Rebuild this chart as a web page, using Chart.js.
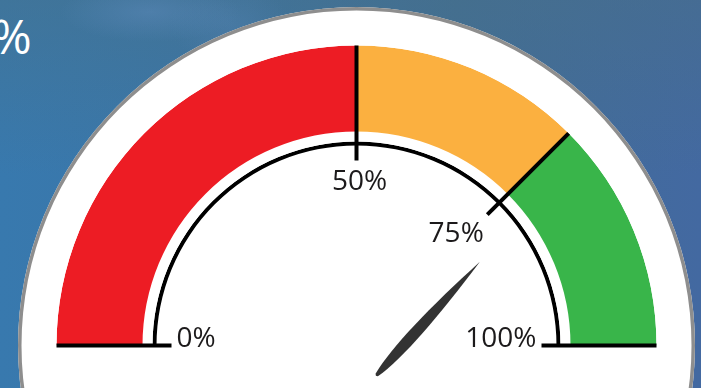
<!DOCTYPE html>
<html lang="en">
<head>
  <meta charset="UTF-8">
  <title>Gauge</title>
  <script src="https://cdn.jsdelivr.net/npm/chart.js"></script>
  <style>
    html, body {
      margin: 0;
      padding: 0;
      width: 701px;
      height: 388px;
      overflow: hidden;
    }
    body {
      position: relative;
      font-family: "Open Sans", Arial, sans-serif;
      background:
        radial-gradient(ellipse 90px 30px at 150px 12px, rgba(95, 140, 190, 0.45), rgba(95, 140, 190, 0)),
        radial-gradient(ellipse 60px 40px at 230px 25px, rgba(90, 135, 185, 0.3), rgba(90, 135, 185, 0)),
        linear-gradient(180deg, rgba(72, 112, 132, 0.45) 0%, rgba(72, 112, 132, 0) 45%),
        linear-gradient(90deg, #3879ae 0%, #3b75a7 35%, #416e97 65%, #4369a1 100%);
    }
    .corner {
      position: absolute;
      left: -8px;
      top: 12px;
      color: #fff;
      font-size: 48px;
      line-height: 1;
    }
    .gauge {
      position: absolute;
      left: 18px;
      top: 7px;
      width: 677px;
      height: 677px;
      border-radius: 50%;
      background: #fff;
    }
  </style>
</head>
<body>
  <div class="corner">%</div>
  <div class="gauge"><canvas id="gauge"></canvas></div>

  <script>
    // bands of the dial, in percent, left to right
    var bandValues = [50, 25, 25];
    var bandColors = ['#ed1c24', '#fbb040', '#39b54a'];
    var tickLabels = ['0%', '50%', '75%', '100%'];
    var needleValue = 73.5;

    var total = bandValues.reduce(function (a, b) { return a + b; }, 0);

    // ticks, labels and needle on top of the rings
    var dialOverlay = {
      id: 'dialOverlay',
      afterDatasetsDraw: function (chart) {
        var ctx = chart.ctx;
        var bands = chart.getDatasetMeta(2).data;
        var rim = chart.getDatasetMeta(4).data[0];
        var cx = bands[0].x, cy = bands[0].y;
        var outer = bands[0].outerRadius;
        var tickInner = rim.innerRadius - 15;

        var angles = bands.slice(0, bandValues.length).map(function (a) { return a.startAngle; });
        angles.push(bands[bandValues.length - 1].endAngle);

        ctx.save();
        ctx.strokeStyle = '#000';
        ctx.lineWidth = 4;
        angles.forEach(function (a) {
          ctx.beginPath();
          ctx.moveTo(cx + tickInner * Math.cos(a), cy + tickInner * Math.sin(a));
          ctx.lineTo(cx + outer * Math.cos(a), cy + outer * Math.sin(a));
          ctx.stroke();
        });

        ctx.fillStyle = '#1c1a1b';
        ctx.font = '28px "Open Sans"';
        var rl = tickInner - 5;
        angles.forEach(function (a, i) {
          var c = Math.cos(a), s = Math.sin(a);
          var px = cx + rl * c, py = cy + rl * s;
          ctx.textAlign = c < -0.5 ? 'left' : (c > 0.3 ? 'right' : 'center');
          var y = Math.abs(s) < 0.3 ? py + 1.5 : py + 24;
          ctx.fillText(tickLabels[i], px + (ctx.textAlign === 'center' ? 3 : 0), y);
        });

        // needle
        var start = bands[0].startAngle;
        var ang = start + Math.PI * needleValue / total;
        var tx = cx + 0.068 * outer, ty = cy + 0.098 * outer;
        var len = 0.51 * outer;
        ctx.translate(tx, ty);
        ctx.rotate(ang);
        ctx.beginPath();
        ctx.moveTo(0, -1.8);
        ctx.bezierCurveTo(0.2 * len, -8, 0.55 * len, -6.5, len, 0);
        ctx.bezierCurveTo(0.55 * len, 6.5, 0.2 * len, 8, 0, 1.8);
        ctx.quadraticCurveTo(-2.4, 0, 0, -1.8);
        ctx.closePath();
        ctx.fillStyle = '#333333';
        ctx.fill();
        ctx.restore();
      }
    };

    var ctx = document.getElementById('gauge').getContext('2d');
    new Chart(ctx, {
      type: 'doughnut',
      data: {
        labels: ['0-50', '50-75', '75-100', ''],
        datasets: [
          // grey rim
          { data: [1], backgroundColor: ['#8e8e8e'], borderWidth: 0, weight: 3.5 },
          // white face
          { data: [1], backgroundColor: ['#ffffff'], borderWidth: 0, weight: 35 },
          // coloured bands, lower half left white
          { data: bandValues.concat([total]), backgroundColor: bandColors.concat(['#ffffff']), borderWidth: 0, weight: 86 },
          // gap
          { data: [1], backgroundColor: ['#ffffff'], borderWidth: 0, weight: 10 },
          // thin black arc
          { data: [total, total], backgroundColor: ['#000000', '#ffffff'], borderWidth: 0, weight: 4 },
          // centre
          { data: [1], backgroundColor: ['#ffffff'], borderWidth: 0, weight: 200 }
        ]
      },
      options: {
        responsive: true,
        maintainAspectRatio: false,
        animation: false,
        events: [],
        rotation: -90,
        circumference: 360,
        cutout: 0,
        layout: { padding: 0 },
        plugins: {
          legend: { display: false },
          tooltip: { enabled: false }
        }
      },
      plugins: [dialOverlay]
    });
  </script>
</body>
</html>
